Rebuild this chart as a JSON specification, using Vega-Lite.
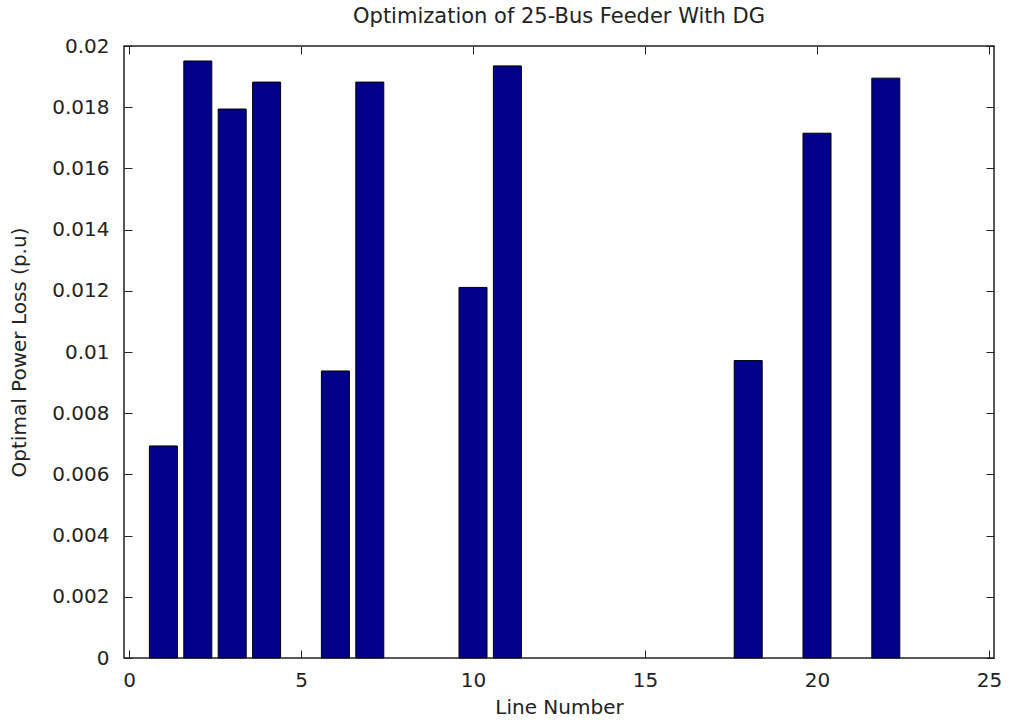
{
  "$schema": "https://vega.github.io/schema/vega-lite/v6.json",
  "autosize": {"type": "none"},
  "padding": {"left": 124, "top": 46, "right": 17, "bottom": 65},
  "width": 870,
  "height": 612,
  "background": "white",
  "title": {"text": "Optimization of 25-Bus Feeder With DG", "font": "DejaVu Sans", "fontSize": 21, "fontWeight": "normal", "color": "#222", "offset": 9},
  "config": {"view": {"stroke": "#222", "strokeWidth": 1.5}},
  "data": {"values": [
    {"line": 1, "loss": 0.00693},
    {"line": 2, "loss": 0.01951},
    {"line": 3, "loss": 0.01794},
    {"line": 4, "loss": 0.01882},
    {"line": 6, "loss": 0.00938},
    {"line": 7, "loss": 0.01882},
    {"line": 10, "loss": 0.01211},
    {"line": 11, "loss": 0.01935},
    {"line": 18, "loss": 0.00972},
    {"line": 20, "loss": 0.01715},
    {"line": 22, "loss": 0.01895}
  ]},
  "resolve": {"axis": {"x": "independent", "y": "independent"}},
  "layer": [
    {
      "mark": {"type": "bar", "size": 28, "color": "#00008A", "stroke": "#000", "strokeWidth": 1},
      "encoding": {
        "x": {"field": "line", "type": "quantitative", "scale": {"domain": [0, 25], "nice": false, "zero": false},
          "axis": {"title": "Line Number", "values": [0, 5, 10, 15, 20, 25], "grid": false, "tickSize": -8, "tickColor": "#222", "domain": false, "labelFont": "DejaVu Sans", "labelFontSize": 20, "labelColor": "#222", "labelPadding": 20, "titleFont": "DejaVu Sans", "titleFontSize": 20, "titleFontWeight": "normal", "titleColor": "#222", "titlePadding": 7}},
        "y": {"field": "loss", "type": "quantitative", "scale": {"domain": [0, 0.02], "nice": false},
          "axis": {"title": "Optimal Power Loss (p.u)", "values": [0, 0.002, 0.004, 0.006, 0.008, 0.01, 0.012, 0.014, 0.016, 0.018, 0.02], "format": "~g", "grid": false, "tickSize": -8, "tickColor": "#222", "domain": false, "labelFont": "DejaVu Sans", "labelFontSize": 20, "labelColor": "#222", "labelPadding": 23, "titleFont": "DejaVu Sans", "titleFontSize": 20, "titleFontWeight": "normal", "titleColor": "#222", "titlePadding": 22}}
      }
    },
    {
      "mark": {"type": "bar", "size": 28, "opacity": 0},
      "encoding": {
        "x": {"field": "line", "type": "quantitative", "scale": {"domain": [0, 25], "nice": false, "zero": false},
          "axis": {"orient": "top", "title": null, "values": [0, 5, 10, 15, 20, 25], "grid": false, "labels": false, "tickSize": -8, "tickColor": "#222", "domain": false}},
        "y": {"field": "loss", "type": "quantitative", "scale": {"domain": [0, 0.02], "nice": false},
          "axis": {"orient": "right", "title": null, "values": [0, 0.002, 0.004, 0.006, 0.008, 0.01, 0.012, 0.014, 0.016, 0.018, 0.02], "grid": false, "labels": false, "tickSize": -8, "tickColor": "#222", "domain": false}}
      }
    }
  ]
}
